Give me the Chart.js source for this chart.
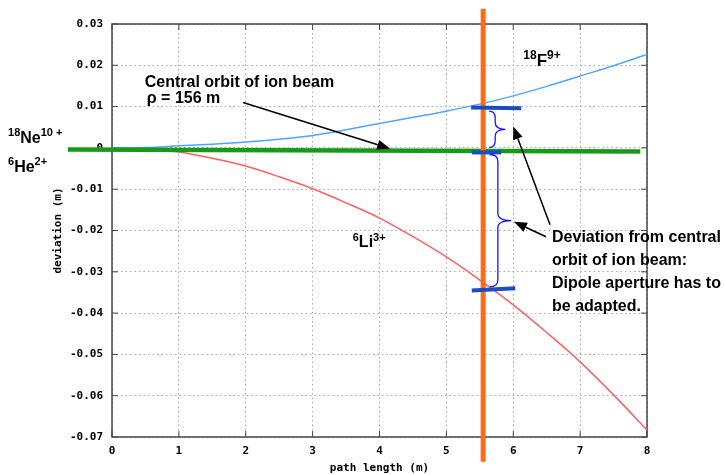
<!DOCTYPE html>
<html>
<head>
<meta charset="utf-8">
<script src="https://cdn.jsdelivr.net/npm/chart.js@4.4.1/dist/chart.umd.min.js"></script>
<style>
  body { margin: 0; background: #fff; }
</style>
</head>
<body>
<canvas id="orbitChart" width="725" height="475"></canvas>
<script>
// path length in the dipole (m)
const pathLength = [0, 0.5, 1, 1.5, 2, 2.5, 3, 3.5, 4, 4.5, 5, 5.5, 6, 6.5, 7, 7.5, 8];
// deviation from the central orbit (m)
const f18Deviation = [0, 0.0001, 0.0005, 0.0009, 0.0014, 0.0021, 0.003, 0.0044, 0.0059, 0.0074, 0.0089, 0.0106, 0.0126, 0.0149, 0.0174, 0.0199, 0.0226];
const li6Deviation = [0, -0.0002, -0.001, -0.0025, -0.0044, -0.007, -0.0099, -0.0133, -0.017, -0.0215, -0.0264, -0.032, -0.038, -0.0447, -0.0518, -0.0598, -0.0683];

// central orbit (18Ne10+ / 6He2+)
const centralX = [-0.66, 7.9];
const centralY = [-0.0004, -0.0009];
// position of the cut (orange line)
const cutX = [5.55, 5.55];
const cutY = [0.0337, -0.076];
// aperture marks at the cut
const markTopX = [5.37, 6.12];
const markTopY = [0.0098, 0.0096];
const markMidX = [5.38, 5.82];
const markMidY = [-0.0011, -0.0011];
const markLowX = [5.38, 6.03];
const markLowY = [-0.0345, -0.034];

const xMin = 0, xMax = 8;
const yMin = -0.07, yMax = 0.03;

function pts(xs, ys) {
    return xs.map((x, i) => ({ x: x, y: ys[i] }));
}

// braces, arrows and labels
const overlay = {
    id: 'overlay',
    beforeDatasetsDraw(chart) {
        const ctx = chart.ctx;
        const a = chart.chartArea;
        const xs = chart.scales.x, ys = chart.scales.y;
        ctx.save();
        ctx.strokeStyle = '#444';
        ctx.lineWidth = 1.5;
        ctx.strokeRect(a.left, a.top, a.right - a.left, a.bottom - a.top);
        ctx.lineWidth = 1;
        ctx.beginPath();
        ys.ticks.forEach(t => {
            const y = ys.getPixelForValue(t.value);
            ctx.moveTo(a.left, y); ctx.lineTo(a.left + 6, y);
            ctx.moveTo(a.right, y); ctx.lineTo(a.right - 6, y);
        });
        xs.ticks.forEach(t => {
            const x = xs.getPixelForValue(t.value);
            ctx.moveTo(x, a.bottom); ctx.lineTo(x, a.bottom - 6);
            ctx.moveTo(x, a.top); ctx.lineTo(x, a.top + 6);
        });
        ctx.stroke();
        ctx.restore();
    },
    afterDatasetsDraw(chart) {
        const ctx = chart.ctx;
        const xs = chart.scales.x, ys = chart.scales.y;
        const px = v => xs.getPixelForValue(v);
        const py = v => ys.getPixelForValue(v);
        ctx.save();

        // curly braces
        function brace(hook, spine, tip, top, bot) {
            const h = px(hook), s = px(spine), t = px(tip);
            const y1 = py(top), y2 = py(bot), m = (y1 + y2) / 2, r = 7;
            ctx.beginPath();
            ctx.moveTo(h, y1);
            ctx.quadraticCurveTo(s, y1, s, y1 + r);
            ctx.lineTo(s, m - r);
            ctx.quadraticCurveTo(s, m, t, m);
            ctx.quadraticCurveTo(s, m, s, m + r);
            ctx.lineTo(s, y2 - r);
            ctx.quadraticCurveTo(s, y2, h, y2);
            ctx.stroke();
        }
        ctx.strokeStyle = '#1414ff';
        ctx.lineWidth = 1.3;
        brace(5.64, 5.73, 5.88, 0.0089, 0.0001);
        brace(5.65, 5.77, 5.97, -0.0016, -0.0336);

        // arrows
        function arrow(x1, y1, x2, y2) {
            const ax = px(x1), ay = py(y1), bx = px(x2), by = py(y2);
            const ang = Math.atan2(by - ay, bx - ax);
            const len = 13, w = 5;
            const cx = bx - len * Math.cos(ang), cy = by - len * Math.sin(ang);
            ctx.beginPath();
            ctx.moveTo(ax, ay);
            ctx.lineTo(cx, cy);
            ctx.stroke();
            ctx.beginPath();
            ctx.moveTo(bx, by);
            ctx.lineTo(cx + w * Math.sin(ang), cy - w * Math.cos(ang));
            ctx.lineTo(cx - w * Math.sin(ang), cy + w * Math.cos(ang));
            ctx.closePath();
            ctx.fill();
        }
        ctx.strokeStyle = '#000';
        ctx.fillStyle = '#000';
        ctx.lineWidth = 1.5;
        arrow(1.96, 0.011, 4.16, -0.0002);
        arrow(6.55, -0.0186, 6.0, 0.0052);
        arrow(6.49, -0.0215, 6.01, -0.0179);

        // text with superscripts
        function label(parts, x, y, size) {
            let cx = px(x);
            const cy = py(y);
            ctx.textBaseline = 'alphabetic';
            ctx.textAlign = 'left';
            parts.forEach(p => {
                const sup = p[1];
                ctx.font = 'bold ' + (sup ? Math.round(size * 0.68) : size) + 'px "Liberation Sans", Arial, sans-serif';
                ctx.fillText(p[0], cx, sup ? cy - size * 0.42 : cy);
                cx += ctx.measureText(p[0]).width;
            });
        }
        label([['Central orbit of ion beam', false]], 0.49, 0.01485, 16);
        label([['\u03c1 = 156 m', false]], 0.52, 0.01097, 16);
        label([['18', true], ['F', false], ['9+', true]], 6.15, 0.0199, 17);
        label([['6', true], ['Li', false], ['3+', true]], 3.6, -0.0241, 16);
        label([['18', true], ['Ne', false], ['10 +', true]], -1.555, 0.0013, 16);
        label([['6', true], ['He', false], ['2+', true]], -1.555, -0.0058, 16);
        label([['Deviation from central', false]], 6.58, -0.0227, 16);
        label([['orbit of ion beam:', false]], 6.58, -0.0283, 16);
        label([['Dipole aperture has to', false]], 6.58, -0.0339, 16);
        label([['be adapted.', false]], 6.58, -0.0395, 16);

        ctx.restore();
    }
};

Chart.defaults.color = '#000';
Chart.defaults.font.family = '"DejaVu Sans Mono", monospace';
Chart.defaults.font.size = 11;
Chart.defaults.font.weight = 'bold';

const ctx = document.getElementById('orbitChart').getContext('2d');
const orbitChart = new Chart(ctx, {
    type: 'scatter',
    data: {
        datasets: [
            {
                label: '18F9+',
                data: pts(pathLength, f18Deviation),
                showLine: true,
                borderColor: 'rgb(80, 165, 255)',
                borderWidth: 1.5,
                pointRadius: 0,
                cubicInterpolationMode: 'monotone',
                order: 5
            },
            {
                label: '6Li3+',
                data: pts(pathLength, li6Deviation),
                showLine: true,
                borderColor: 'rgb(255, 95, 95)',
                borderWidth: 1.5,
                pointRadius: 0,
                cubicInterpolationMode: 'monotone',
                order: 5
            },
            {
                label: 'central orbit',
                data: pts(centralX, centralY),
                showLine: true,
                borderColor: '#17991a',
                borderWidth: 4.5,
                pointRadius: 0,
                clip: false,
                order: 4
            },
            {
                label: 'cut',
                data: pts(cutX, cutY),
                showLine: true,
                borderColor: '#ff6a14',
                borderWidth: 5,
                pointRadius: 0,
                clip: false,
                order: 3
            },
            {
                label: 'mark top',
                data: pts(markTopX, markTopY),
                showLine: true,
                borderColor: '#1c4bc2',
                borderWidth: 4,
                pointRadius: 0,
                clip: false,
                order: 2
            },
            {
                label: 'mark mid',
                data: pts(markMidX, markMidY),
                showLine: true,
                borderColor: '#1c4bc2',
                borderWidth: 4,
                pointRadius: 0,
                clip: false,
                order: 2
            },
            {
                label: 'mark low',
                data: pts(markLowX, markLowY),
                showLine: true,
                borderColor: '#1c4bc2',
                borderWidth: 4,
                pointRadius: 0,
                clip: false,
                order: 2
            }
        ]
    },
    options: {
        responsive: false,
        animation: false,
        layout: {
            padding: { left: 0, right: 78, top: 24, bottom: 0 }
        },
        plugins: {
            legend: { display: false },
            tooltip: { enabled: false }
        },
        scales: {
            x: {
                type: 'linear',
                min: xMin,
                max: xMax,
                afterFit: s => { s.height = 38; },
                ticks: { stepSize: 1, padding: 8, maxRotation: 0 },
                grid: { color: '#a8a8a8', drawTicks: false },
                border: { display: false, dash: [1.5, 3] },
                title: {
                    display: true,
                    text: 'path length (m)',
                    padding: { top: 0, bottom: 0 }
                }
            },
            y: {
                type: 'linear',
                min: yMin,
                max: yMax,
                afterFit: s => { s.width = 112; },
                ticks: {
                    stepSize: 0.01,
                    padding: 9,
                    callback: v => Math.abs(v) < 1e-9 ? '0' : v.toFixed(2)
                },
                grid: { color: '#a8a8a8', drawTicks: false },
                border: { display: false, dash: [1.5, 3] },
                title: {
                    display: true,
                    text: 'deviation (m)',
                    padding: { top: 52, bottom: 0 }
                }
            }
        }
    },
    plugins: [overlay]
});
</script>
</body>
</html>
